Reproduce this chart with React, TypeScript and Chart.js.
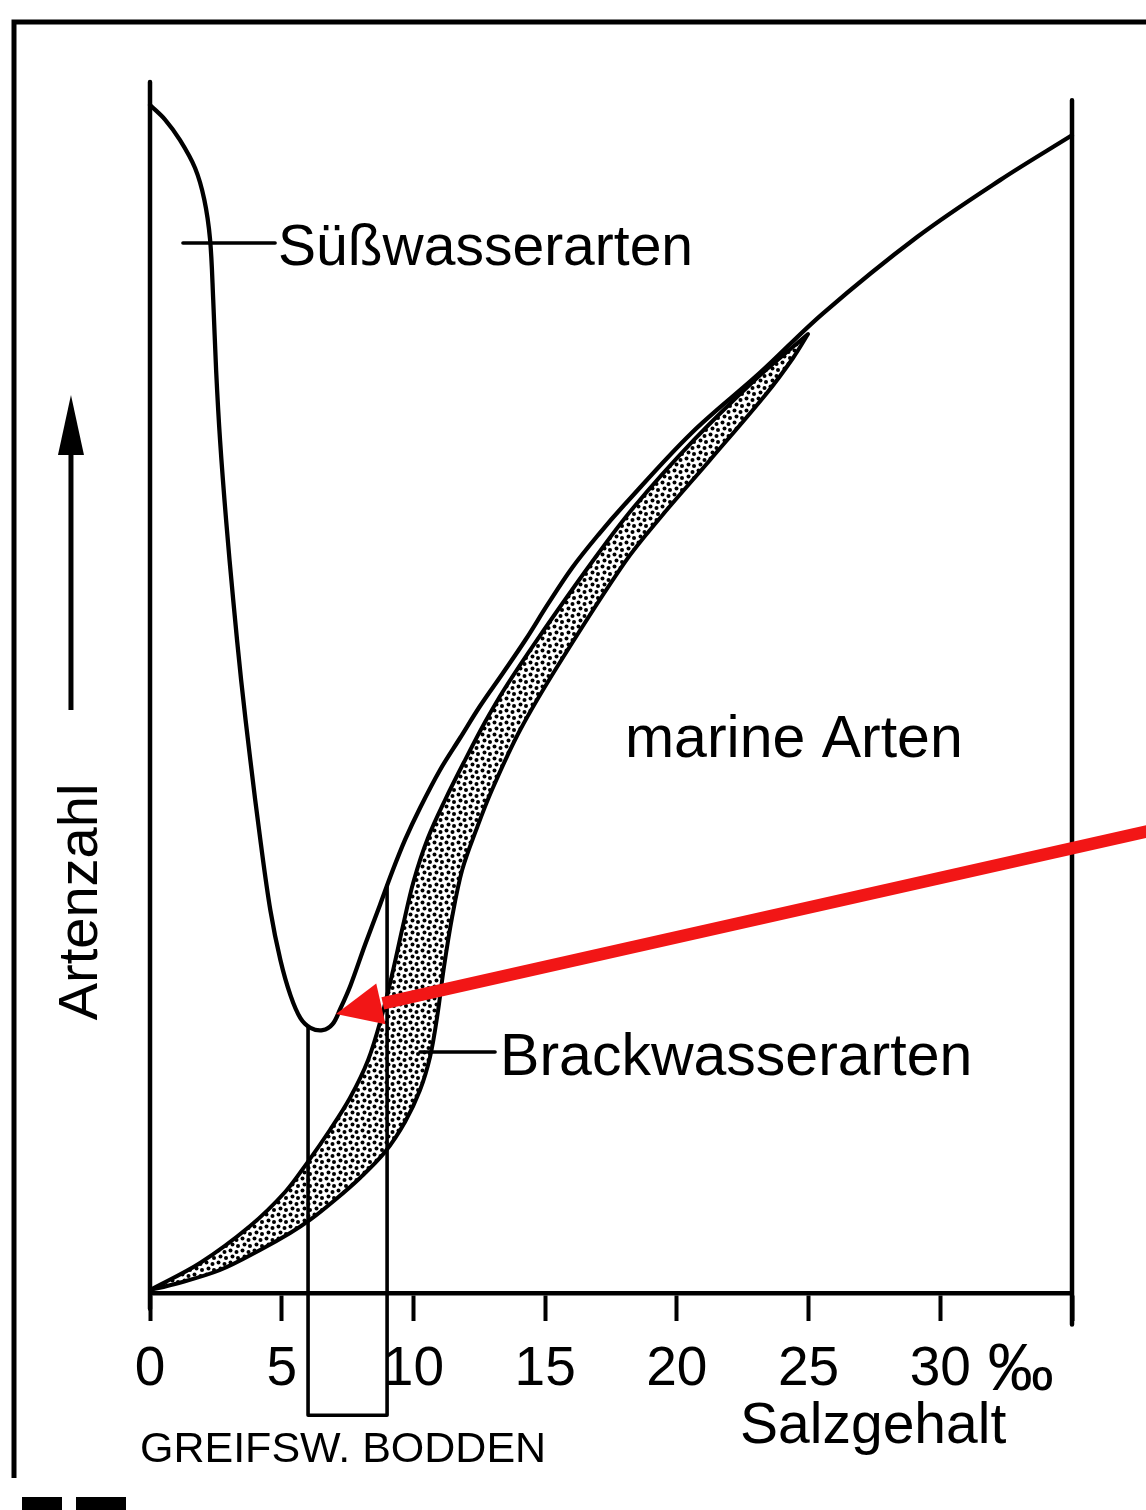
import React, { useEffect, useRef } from "react";
import { Chart, registerables } from "chart.js";
Chart.register(...registerables);

// ---------- data (x = Salzgehalt ‰, y = relative Artenzahl 0–100) ----------
const xTickValues = [0, 5, 10, 15, 20, 25, 30];
const xTickLabels = ["0", "5", "10", "15", "20", "25", "30"];

// Süßwasserarten curve, continuing as the upper envelope of the marine species
const suesswasserMarinKurve = [
  { x: 0, y: 98.1 }, { x: 0.57, y: 96.9 }, { x: 1.14, y: 95.2 }, { x: 1.71, y: 92.9 },
  { x: 2.06, y: 90.3 }, { x: 2.28, y: 87.0 }, { x: 2.4, y: 82.0 }, { x: 2.51, y: 76.2 },
  { x: 2.66, y: 70.4 }, { x: 2.89, y: 63.8 }, { x: 3.16, y: 57.2 }, { x: 3.46, y: 50.6 },
  { x: 3.81, y: 44.0 }, { x: 4.19, y: 37.4 }, { x: 4.57, y: 31.6 }, { x: 4.95, y: 27.5 },
  { x: 5.33, y: 24.6 }, { x: 5.71, y: 22.7 }, { x: 6.09, y: 21.9 }, { x: 6.55, y: 21.7 },
  { x: 6.93, y: 22.2 }, { x: 7.23, y: 23.5 }, { x: 7.61, y: 25.4 }, { x: 8.16, y: 28.74 },
  { x: 8.73, y: 32.04 }, { x: 9.19, y: 34.76 }, { x: 9.68, y: 37.41 }, { x: 10.25, y: 40.05 },
  { x: 11.01, y: 43.19 }, { x: 11.77, y: 45.83 }, { x: 12.53, y: 48.47 }, { x: 13.4, y: 51.2 },
  { x: 14.25, y: 53.92 }, { x: 15.11, y: 56.9 }, { x: 16.02, y: 59.87 }, { x: 17.01, y: 62.59 },
  { x: 18.0, y: 65.07 }, { x: 20.55, y: 71.0 }, { x: 23.16, y: 76.0 }, { x: 25.55, y: 80.9 },
  { x: 29.12, y: 87.2 }, { x: 32.27, y: 91.9 }, { x: 35, y: 95.6 },
];

// Brackwasserarten band: upper edge
const brackOben = [
  { x: 0, y: 0.25 }, { x: 1.9, y: 2.48 }, { x: 3.8, y: 5.53 }, { x: 5.13, y: 8.34 },
  { x: 5.96, y: 10.73 }, { x: 6.83, y: 13.46 }, { x: 7.59, y: 16.1 }, { x: 8.28, y: 19.24 },
  { x: 8.81, y: 22.96 }, { x: 9.23, y: 26.67 }, { x: 9.61, y: 30.39 }, { x: 10.02, y: 34.1 },
  { x: 10.55, y: 37.57 }, { x: 11.2, y: 40.71 }, { x: 11.96, y: 44.01 }, { x: 12.72, y: 47.15 },
  { x: 13.48, y: 49.96 }, { x: 14.69, y: 53.92 }, { x: 16.78, y: 60.36 }, { x: 18.34, y: 64.82 },
  { x: 20.65, y: 70.44 }, { x: 23.04, y: 75.56 }, { x: 24.49, y: 78.28 }, { x: 24.98, y: 79.19 },
];
// Brackwasserarten band: lower edge (from the tip back to the origin)
const brackUnten = [
  { x: 24.98, y: 79.19 }, { x: 24.41, y: 77.21 }, { x: 23.42, y: 74.32 }, { x: 21.26, y: 68.79 },
  { x: 19.36, y: 64.0 }, { x: 18.03, y: 60.36 }, { x: 15.57, y: 52.11 }, { x: 14.05, y: 46.49 },
  { x: 12.98, y: 41.54 }, { x: 12.38, y: 38.23 }, { x: 11.85, y: 34.93 }, { x: 11.47, y: 31.05 },
  { x: 11.16, y: 26.92 }, { x: 10.9, y: 22.79 }, { x: 10.63, y: 19.49 }, { x: 10.25, y: 16.76 },
  { x: 9.68, y: 14.12 }, { x: 8.92, y: 11.64 }, { x: 7.97, y: 9.5 }, { x: 7.02, y: 7.68 },
  { x: 6.07, y: 6.03 }, { x: 5.32, y: 4.95 }, { x: 4.18, y: 3.55 }, { x: 2.66, y: 1.9 },
  { x: 0.95, y: 0.74 }, { x: 0, y: 0.25 },
];

// Greifswalder Bodden salinity range box (6–9 ‰)
const boddenKasten = [
  { x: 6, y: 21.9 }, { x: 6, y: -10.1 }, { x: 9, y: -10.1 }, { x: 9, y: 33.6 },
];

// frame lines of the diagram
const linkeAchse = [{ x: 0, y: 100 }, { x: 0, y: -1.3 }];
const rechteAchse = [{ x: 35, y: 98.5 }, { x: 35, y: -2.6 }];

// leader lines of the labels
const suessFuehrung = [{ x: 1.25, y: 86.7 }, { x: 4.75, y: 86.7 }];
const brackFuehrung = [{ x: 10.25, y: 19.9 }, { x: 13.1, y: 19.9 }];

// red pointer arrow: tail (off the right edge) -> tip at the freshwater minimum
const roterPfeil = [{ x: 37.9, y: 38.15 }, { x: 7.06, y: 23.04 }];

// y-axis direction arrow (Artenzahl)
const yPfeil = [{ x: -3.0, y: 48.14 }, { x: -3.0, y: 74.15 }];

// ---------- styling / text placement ----------
const FONT = "'Liberation Sans', Arial, sans-serif";

const textLabels = [
  { text: "Süßwasserarten", x: 4.86, y: 84.9, size: 57 },
  { text: "marine Arten", x: 18.03, y: 44.3, size: 59 },
  { text: "Brackwasserarten", x: 13.29, y: 18.0, size: 59 },
  { text: "Salzgehalt", x: 22.4, y: -12.4, size: 57 },
  { text: "GREIFSW. BODDEN", x: -0.38, y: -13.96, size: 43 },
  { text: "‰", x: 31.8, y: -8.0, size: 66 },
];
const yTitle = { text: "Artenzahl", x: -2.01, y: 32.29, size: 56 };

const stippleDots: [number, number][] = [
  [2.5, 2.5], [8.5, 4.0], [4.5, 8.5], [10.0, 10.0],
];

export default function App() {
  const ref = useRef<HTMLCanvasElement>(null);

  useEffect(() => {
    const canvas = ref.current!;
    const tile = document.createElement("canvas");
    tile.width = 12;
    tile.height = 12;
    const tctx = tile.getContext("2d")!;
    tctx.fillStyle = "#fff";
    tctx.fillRect(0, 0, 12, 12);
    tctx.fillStyle = "#000";
    for (const [dx, dy] of stippleDots) {
      tctx.beginPath();
      tctx.arc(dx, dy, 2.0, 0, Math.PI * 2);
      tctx.fill();
    }
    const pattern = canvas.getContext("2d")!.createPattern(tile, "repeat")!;

    const lineDs = (label: string, data: any[], width: number, tension = 0) => ({
      label,
      data,
      borderColor: "#000",
      borderWidth: width,
      tension,
      fill: false,
      pointRadius: 0,
      clip: false as any,
    });

    const decor = {
      id: "decor",
      beforeDraw(chart: any) {
        const ctx = chart.ctx;
        ctx.save();
        ctx.fillStyle = "#fff";
        ctx.fillRect(0, 0, chart.width, chart.height);
        ctx.strokeStyle = "#000";
        ctx.lineWidth = 5;
        ctx.beginPath();
        ctx.moveTo(14, 1478);
        ctx.lineTo(14, 22);
        ctx.lineTo(chart.width, 22);
        ctx.stroke();
        ctx.restore();
      },
      afterDatasetsDraw(chart: any) {
        const ctx = chart.ctx;
        const xs = chart.scales.x;
        const ys = chart.scales.y;
        const tx = xs.getPixelForValue(roterPfeil[0].x);
        const ty = ys.getPixelForValue(roterPfeil[0].y);
        const px = xs.getPixelForValue(roterPfeil[1].x);
        const py = ys.getPixelForValue(roterPfeil[1].y);
        const len = Math.hypot(tx - px, ty - py);
        const ux = (tx - px) / len;
        const uy = (ty - py) / len;
        const headLen = 46;
        const headHalf = 21;
        const bx = px + ux * headLen;
        const by = py + uy * headLen;
        ctx.save();
        ctx.strokeStyle = "#f21616";
        ctx.fillStyle = "#f21616";
        ctx.lineWidth = 12.5;
        ctx.lineCap = "butt";
        ctx.beginPath();
        ctx.moveTo(tx, ty);
        ctx.lineTo(bx + ux * 2, by + uy * 2);
        ctx.stroke();
        ctx.beginPath();
        ctx.moveTo(px, py);
        ctx.lineTo(bx - uy * headHalf, by + ux * headHalf);
        ctx.lineTo(bx + uy * headHalf, by - ux * headHalf);
        ctx.closePath();
        ctx.fill();
        ctx.restore();
      },
      afterDraw(chart: any) {
        const ctx = chart.ctx;
        const xs = chart.scales.x;
        const ys = chart.scales.y;
        ctx.save();
        ctx.fillStyle = "#000";
        ctx.textAlign = "left";
        ctx.textBaseline = "alphabetic";
        for (const l of textLabels) {
          ctx.font = `${l.size}px ${FONT}`;
          ctx.fillText(l.text, xs.getPixelForValue(l.x), ys.getPixelForValue(l.y));
        }
        ctx.save();
        ctx.translate(xs.getPixelForValue(yTitle.x), ys.getPixelForValue(yTitle.y));
        ctx.rotate(-Math.PI / 2);
        ctx.textAlign = "center";
        ctx.font = `${yTitle.size}px ${FONT}`;
        ctx.fillText(yTitle.text, 0, 0);
        ctx.restore();
        const ax = xs.getPixelForValue(yPfeil[0].x);
        const a0 = ys.getPixelForValue(yPfeil[0].y);
        const a1 = ys.getPixelForValue(yPfeil[1].y);
        ctx.strokeStyle = "#000";
        ctx.lineWidth = 5;
        ctx.beginPath();
        ctx.moveTo(ax, a0);
        ctx.lineTo(ax, a1 + 50);
        ctx.stroke();
        ctx.beginPath();
        ctx.moveTo(ax, a1);
        ctx.lineTo(ax - 13, a1 + 60);
        ctx.lineTo(ax + 13, a1 + 60);
        ctx.closePath();
        ctx.fill();
        ctx.fillRect(22, 1497, 40, 13);
        ctx.fillRect(76, 1497, 50, 13);
        ctx.restore();
      },
    };

    const chart = new Chart(canvas, {
      type: "line",
      data: {
        datasets: [
          lineDs("Süßwasser-Führungslinie", suessFuehrung, 3.5),
          lineDs("Brackwasser-Führungslinie", brackFuehrung, 3.5),
          lineDs("Greifswalder Bodden", boddenKasten, 3.6),
          lineDs("Süßwasser- / marine Arten", suesswasserMarinKurve, 4.3, 0.35),
          lineDs("linke Achse", linkeAchse, 4.5),
          lineDs("rechte Achse", rechteAchse, 4.5),
          {
            label: "Brackwasserarten",
            data: [...brackOben, ...brackUnten],
            borderColor: "#000",
            borderWidth: 4,
            tension: 0.35,
            fill: "shape",
            backgroundColor: pattern,
            pointRadius: 0,
            clip: false as any,
          } as any,
        ],
      },
      options: {
        animation: false,
        responsive: false,
        maintainAspectRatio: false,
        layout: { padding: { left: 150, right: 74, top: 82, bottom: 0 } },
        plugins: {
          legend: { display: false },
          tooltip: { enabled: false },
          title: { display: false },
        },
        elements: {
          point: { radius: 0 },
          line: { borderCapStyle: "round", borderJoinStyle: "round" },
        },
        scales: {
          x: {
            type: "linear",
            min: 0,
            max: 35,
            afterBuildTicks: (s: any) => {
              s.ticks = [...xTickValues, 35].map((v) => ({ value: v }));
            },
            afterFit: (s: any) => {
              s.height = 217;
            },
            ticks: {
              autoSkip: false,
              maxRotation: 0,
              color: "#000",
              padding: 16,
              font: { family: FONT, size: 55 },
              callback: (v: any) => {
                const i = xTickValues.indexOf(Number(v));
                return i >= 0 ? xTickLabels[i] : "";
              },
            },
            grid: {
              drawOnChartArea: false,
              drawTicks: true,
              tickLength: 28,
              tickColor: "#000",
              tickWidth: 4,
            },
            border: { display: true, color: "#000", width: 4.5 },
          },
          y: { type: "linear", min: 0, max: 100, display: false },
        },
      } as any,
      plugins: [decor],
    });
    return () => chart.destroy();
  }, []);

  return (
    <div style={{ position: "absolute", left: 0, top: 0, width: 1146, height: 1510, background: "#fff" }}>
      <canvas ref={ref} width={1146} height={1510} style={{ display: "block", width: 1146, height: 1510 }} />
    </div>
  );
}
